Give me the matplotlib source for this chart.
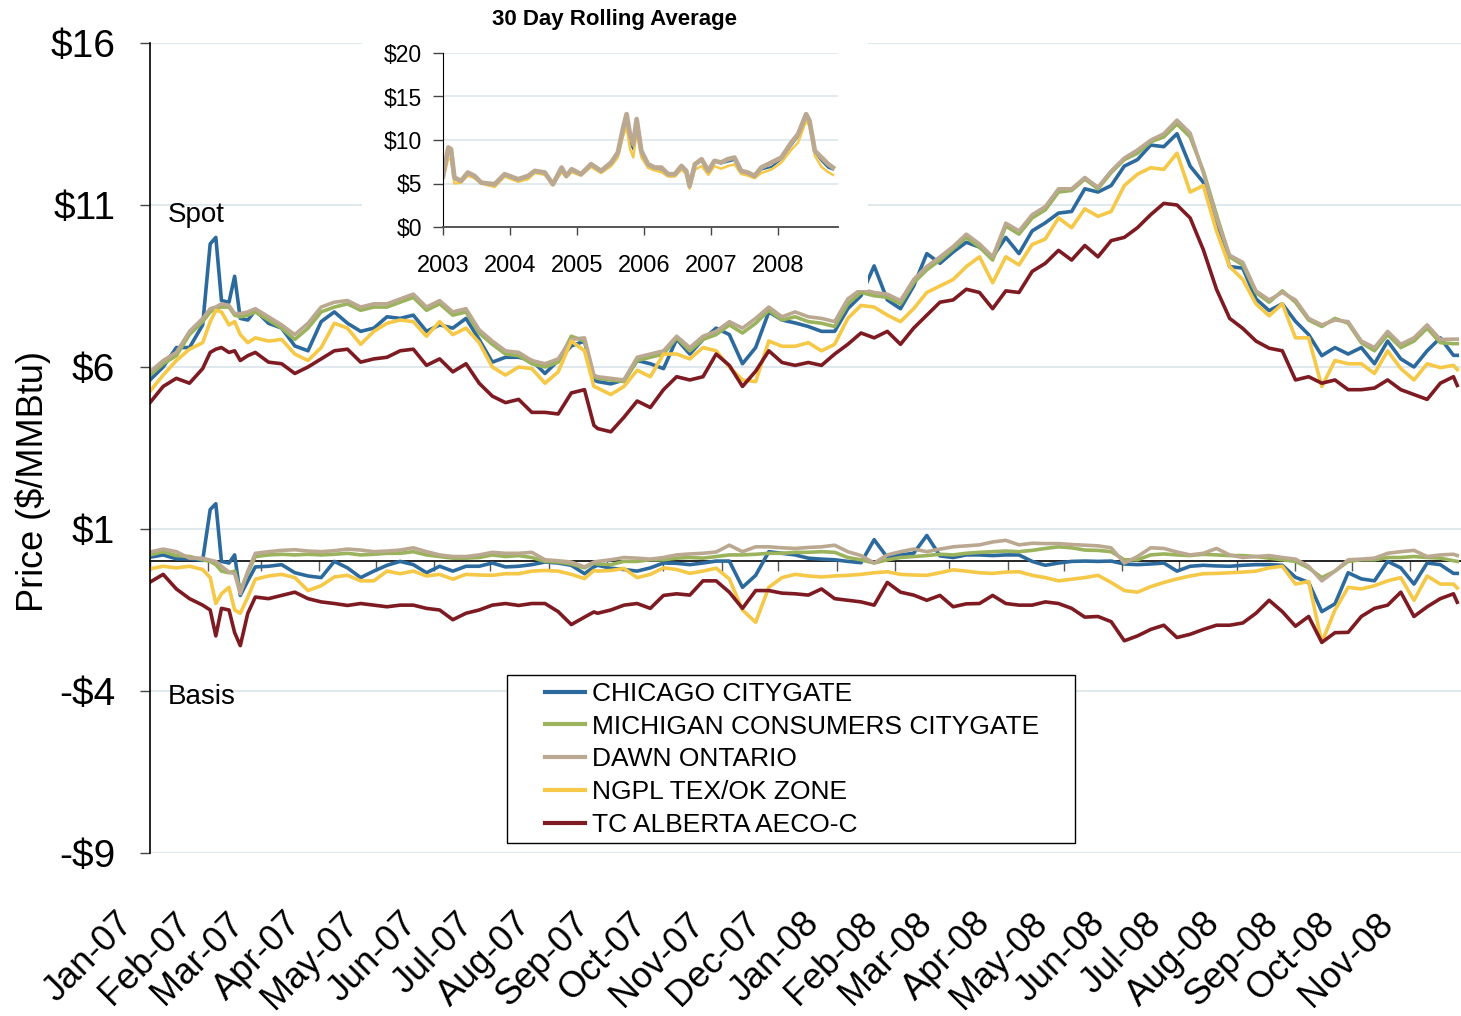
import numpy as np
import matplotlib
matplotlib.use('Agg')
import matplotlib.pyplot as plt
import matplotlib.dates as mdates
import matplotlib.transforms as mtransforms
from matplotlib.patches import Rectangle
from matplotlib.ticker import NullFormatter

plt.rcParams['font.family'] = ['Liberation Sans', 'DejaVu Sans']

# ---- daily prices, sampled about weekly (days after 2007-01-01) ----
days = [0, 7, 14, 21, 28, 32, 35, 38, 42, 45, 48, 52, 56, 63, 70, 77, 84, 91, 98, 105,
        112, 119, 126, 133, 140, 147, 154, 161, 168, 175, 182, 189, 196, 203, 210, 217, 224, 231, 236,
        238, 245, 252, 259, 266, 273, 280, 287, 294, 301, 308, 315, 322, 329, 336, 343, 350, 357,
        364, 371, 378, 385, 392, 399, 406, 413, 420, 427, 434, 441, 448, 455, 462, 469,
        476, 483, 490, 497, 504, 511, 518, 525, 532, 539, 546, 553, 560, 567, 574, 581, 588, 595,
        602, 609, 616, 623, 630, 637, 644, 651, 658, 665, 672, 679, 686, 693, 695]

chicago_spot = [5.6, 6.0, 6.6, 6.6, 7.3, 9.8, 10.0, 8.05, 8.0, 8.8, 7.5, 7.45, 7.75, 7.35, 7.2, 6.65, 6.5, 7.4, 7.7, 7.35,
                7.1, 7.2, 7.55, 7.5, 7.6, 7.1, 7.3, 7.2, 7.5, 6.85, 6.15, 6.3, 6.3, 6.2, 5.8, 6.2, 6.65, 6.8, 5.6,
                5.55, 5.48, 5.6, 6.2, 6.1, 5.95, 6.86, 6.4, 6.85, 7.2, 7.0, 6.1, 6.6, 7.7, 7.45, 7.36, 7.25, 7.1,
                7.1, 7.8, 8.2, 9.12, 8.07, 7.8, 8.5, 9.5, 9.2, 9.55, 9.85, 9.7, 9.4, 10.0, 9.5, 10.2,
                10.45, 10.75, 10.8, 11.5, 11.4, 11.6, 12.2, 12.4, 12.85, 12.8, 13.2, 12.2, 11.7, 10.4, 9.1, 9.05, 8.1, 7.74,
                7.95, 7.41, 7.0, 6.35, 6.6, 6.4, 6.6, 6.1, 6.8, 6.25, 6.0, 6.5, 6.9, 6.36, 6.36]
michigan_spot = [5.75, 6.1, 6.35, 7.0, 7.4, 7.7, 7.8, 7.85, 7.85, 7.6, 7.55, 7.6, 7.7, 7.45, 7.2, 6.85, 7.2, 7.7, 7.85, 7.95,
                 7.75, 7.85, 7.85, 8.0, 8.15, 7.75, 7.95, 7.6, 7.7, 7.05, 6.7, 6.4, 6.35, 6.1, 6.0, 6.15, 6.95, 6.8, 5.7,
                 5.65, 5.6, 5.55, 6.2, 6.3, 6.4, 6.9, 6.5, 6.85, 7.0, 7.3, 7.05, 7.35, 7.75, 7.45, 7.55, 7.4, 7.35,
                 7.25, 7.95, 8.3, 8.2, 8.15, 7.95, 8.6, 9.0, 9.3, 9.65, 10.0, 9.7, 9.3, 10.35, 10.1, 10.6,
                 10.85, 11.4, 11.45, 11.8, 11.5, 12.0, 12.4, 12.6, 12.95, 13.1, 13.5, 13.1, 12.05, 10.7, 9.4, 9.15, 8.3, 8.0,
                 8.35, 8.0, 7.45, 7.25, 7.5, 7.35, 6.75, 6.5, 7.0, 6.6, 6.8, 7.2, 6.75, 6.72, 6.72]
dawn_spot = [5.85, 6.2, 6.45, 7.1, 7.5, 7.8, 7.85, 7.95, 7.9, 7.65, 7.65, 7.7, 7.8, 7.55, 7.3, 7.0, 7.35, 7.85, 8.0, 8.05,
             7.85, 7.95, 7.95, 8.1, 8.25, 7.85, 8.05, 7.7, 7.8, 7.15, 6.8, 6.5, 6.45, 6.2, 6.1, 6.25, 6.85, 6.9, 5.75,
             5.7, 5.65, 5.6, 6.3, 6.4, 6.5, 6.95, 6.6, 6.95, 7.1, 7.4, 7.2, 7.5, 7.85, 7.55, 7.7, 7.55, 7.5,
             7.4, 8.1, 8.4, 8.3, 8.25, 8.05, 8.7, 9.1, 9.4, 9.72, 10.1, 9.8, 9.4, 10.44, 10.2, 10.7,
             10.95, 11.5, 11.5, 11.85, 11.55, 12.05, 12.45, 12.7, 13.0, 13.2, 13.62, 13.22, 12.0, 10.6, 9.45, 9.23, 8.35, 8.07,
             8.3, 8.07, 7.5, 7.3, 7.45, 7.4, 6.8, 6.6, 7.1, 6.7, 6.9, 7.3, 6.85, 6.86, 6.86]
ngpl_spot = [5.25, 5.75, 6.2, 6.55, 6.75, 7.4, 7.75, 7.7, 7.3, 7.4, 7.0, 6.75, 6.9, 6.8, 6.85, 6.4, 6.2, 6.6, 7.35, 7.2,
             6.7, 7.1, 7.35, 7.45, 7.4, 6.95, 7.4, 7.0, 7.2, 6.75, 6.0, 5.75, 6.0, 5.95, 5.5, 5.85, 6.8, 6.5, 5.4,
             5.35, 5.15, 5.4, 5.9, 5.7, 6.4, 6.4, 6.25, 6.6, 6.5, 6.0, 5.6, 5.55, 6.8, 6.64, 6.64, 6.75, 6.5,
             6.7, 7.5, 7.9, 7.85, 7.6, 7.4, 7.8, 8.3, 8.5, 8.7, 9.1, 9.4, 8.6, 9.4, 9.15, 9.78,
             9.95, 10.6, 10.3, 10.88, 10.65, 10.8, 11.6, 11.95, 12.15, 12.1, 12.6, 11.4, 11.6, 10.2, 9.1, 8.7, 7.95, 7.58,
             7.95, 6.9, 6.9, 5.4, 6.2, 6.1, 6.1, 5.8, 6.5, 5.95, 5.6, 6.1, 5.98, 6.05, 5.92]
tc_spot = [4.9, 5.4, 5.65, 5.5, 5.95, 6.45, 6.55, 6.6, 6.45, 6.5, 6.2, 6.35, 6.45, 6.15, 6.1, 5.8, 6.0, 6.25, 6.5, 6.55,
           6.15, 6.25, 6.3, 6.5, 6.55, 6.05, 6.25, 5.85, 6.1, 5.5, 5.1, 4.9, 5.0, 4.6, 4.6, 4.55, 5.2, 5.3, 4.2,
           4.1, 4.0, 4.45, 4.95, 4.75, 5.3, 5.7, 5.6, 5.7, 6.4, 6.05, 5.4, 5.87, 6.5, 6.14, 6.05, 6.14, 6.05,
           6.4, 6.7, 7.05, 6.9, 7.1, 6.7, 7.2, 7.6, 8.0, 8.07, 8.4, 8.3, 7.8, 8.35, 8.3, 8.95,
           9.2, 9.6, 9.3, 9.75, 9.4, 9.9, 10.0, 10.3, 10.7, 11.05, 11.0, 10.6, 9.62, 8.4, 7.5, 7.19, 6.8, 6.58,
           6.5, 5.6, 5.7, 5.5, 5.6, 5.3, 5.3, 5.35, 5.6, 5.3, 5.15, 5.0, 5.5, 5.7, 5.43]

chicago_basis = [0.13, 0.2, 0.08, 0.08, 0.03, 1.6, 1.78, 0.0, -0.05, 0.2, -1.05, -0.6, -0.17, -0.15, -0.1, -0.35, -0.45, -0.5, 0.0, -0.2,
                 -0.5, -0.3, -0.12, 0.0, -0.1, -0.35, -0.15, -0.3, -0.15, -0.15, -0.05, -0.17, -0.15, -0.1, -0.02, -0.05, -0.12, -0.38, -0.17,
                 -0.12, -0.21, -0.25, -0.3, -0.2, -0.05, -0.06, -0.1, -0.05, 0.01, 0.01, -0.8, -0.43, 0.3, 0.25, 0.2, 0.1, 0.07,
                 0.05, 0.0, -0.04, 0.67, 0.12, 0.2, 0.25, 0.8, 0.17, 0.12, 0.2, 0.2, 0.18, 0.2, 0.2, 0.0,
                 -0.12, -0.05, 0.0, 0.01, 0.0, 0.01, -0.08, -0.1, -0.08, -0.05, -0.3, -0.15, -0.12, -0.14, -0.15, -0.12, -0.1, -0.1,
                 -0.12, -0.49, -0.65, -1.55, -1.31, -0.35, -0.54, -0.6, 0.0, -0.2, -0.7, -0.05, -0.1, -0.37, -0.37]
michigan_basis = [0.2, 0.3, 0.18, 0.15, 0.05, 0.0, -0.1, -0.3, -0.35, -0.3, -0.9, -0.35, 0.15, 0.2, 0.22, 0.2, 0.22, 0.2, 0.22, 0.25,
                  0.2, 0.22, 0.25, 0.25, 0.3, 0.2, 0.15, 0.1, 0.1, 0.12, 0.2, 0.15, 0.18, 0.12, 0.0, -0.02, -0.08, -0.2, -0.05,
                  -0.08, -0.1, 0.0, 0.0, 0.05, 0.05, 0.1, 0.12, 0.1, 0.15, 0.2, 0.2, 0.22, 0.25, 0.25, 0.28, 0.28, 0.3,
                  0.28, 0.12, 0.05, -0.05, 0.05, 0.12, 0.15, 0.18, 0.22, 0.2, 0.25, 0.28, 0.3, 0.32, 0.3, 0.34,
                  0.4, 0.45, 0.42, 0.35, 0.34, 0.3, 0.05, 0.05, 0.2, 0.23, 0.2, 0.18, 0.22, 0.2, 0.18, 0.18, 0.15, 0.1,
                  0.05, 0.0, -0.2, -0.5, -0.3, 0.0, 0.05, 0.05, 0.12, 0.12, 0.15, 0.12, 0.1, 0.02, 0.0]
dawn_basis = [0.29, 0.38, 0.3, 0.1, 0.1, 0.04, 0.0, -0.15, -0.33, -0.38, -1.0, -0.3, 0.25, 0.3, 0.34, 0.36, 0.32, 0.3, 0.33, 0.38,
              0.35, 0.3, 0.32, 0.35, 0.42, 0.3, 0.2, 0.15, 0.15, 0.2, 0.28, 0.25, 0.25, 0.28, 0.05, 0.02, -0.02, -0.17, -0.02,
              0.0, 0.05, 0.12, 0.1, 0.07, 0.12, 0.2, 0.23, 0.25, 0.29, 0.5, 0.3, 0.45, 0.45, 0.42, 0.4, 0.43, 0.45,
              0.5, 0.3, 0.18, -0.05, 0.2, 0.3, 0.38, 0.3, 0.38, 0.45, 0.48, 0.51, 0.6, 0.65, 0.51, 0.56,
              0.55, 0.55, 0.52, 0.5, 0.48, 0.42, -0.05, 0.15, 0.42, 0.4, 0.29, 0.2, 0.25, 0.4, 0.2, 0.12, 0.15, 0.18,
              0.12, 0.07, -0.15, -0.6, -0.3, 0.05, 0.07, 0.1, 0.25, 0.3, 0.34, 0.15, 0.2, 0.22, 0.18]
ngpl_basis = [-0.23, -0.15, -0.2, -0.15, -0.25, -0.5, -1.3, -1.0, -0.8, -1.5, -1.6, -1.1, -0.55, -0.45, -0.4, -0.5, -0.9, -0.75, -0.48, -0.43,
              -0.6, -0.6, -0.3, -0.38, -0.3, -0.45, -0.4, -0.55, -0.4, -0.42, -0.43, -0.38, -0.38, -0.3, -0.28, -0.3, -0.4, -0.53, -0.28,
              -0.3, -0.28, -0.22, -0.5, -0.4, -0.2, -0.25, -0.37, -0.3, -0.21, -0.54, -1.5, -1.88, -0.8, -0.5, -0.4, -0.45, -0.48,
              -0.45, -0.43, -0.4, -0.35, -0.32, -0.4, -0.42, -0.43, -0.35, -0.26, -0.3, -0.35, -0.37, -0.33, -0.32, -0.43,
              -0.5, -0.6, -0.55, -0.5, -0.43, -0.65, -0.9, -0.95, -0.78, -0.65, -0.54, -0.45, -0.38, -0.37, -0.35, -0.33, -0.3, -0.2,
              -0.15, -0.7, -0.62, -2.5, -1.5, -0.8, -0.85, -0.75, -0.6, -0.5, -1.2, -0.45, -0.7, -0.7, -0.82]
tc_basis = [-0.64, -0.4, -0.85, -1.15, -1.35, -1.5, -2.3, -1.45, -1.5, -2.2, -2.6, -1.6, -1.1, -1.15, -1.05, -0.95, -1.15, -1.25, -1.3, -1.36,
            -1.3, -1.35, -1.4, -1.35, -1.35, -1.45, -1.5, -1.8, -1.6, -1.5, -1.35, -1.3, -1.36, -1.3, -1.3, -1.55, -1.95, -1.72, -1.56,
            -1.6, -1.5, -1.35, -1.3, -1.45, -1.05, -1.0, -1.04, -0.6, -0.6, -0.95, -1.45, -0.9, -0.9, -0.98, -1.0, -1.04, -0.85,
            -1.15, -1.2, -1.25, -1.35, -0.65, -0.95, -1.04, -1.2, -1.05, -1.4, -1.31, -1.3, -1.05, -1.3, -1.35, -1.35,
            -1.25, -1.3, -1.45, -1.72, -1.7, -1.86, -2.45, -2.3, -2.1, -1.97, -2.35, -2.25, -2.1, -1.97, -1.97, -1.9, -1.6, -1.2,
            -1.55, -2.0, -1.7, -2.5, -2.2, -2.19, -1.7, -1.45, -1.35, -0.95, -1.7, -1.4, -1.15, -1.0, -1.26]

# ---- inset: 30 day rolling average ----
ins_years = [2003.00, 2003.08, 2003.12, 2003.17, 2003.27, 2003.37, 2003.47, 2003.57, 2003.77, 2003.92,
             2004.12, 2004.27, 2004.37, 2004.52, 2004.64, 2004.77, 2004.84, 2004.92, 2005.06, 2005.21,
             2005.36, 2005.51, 2005.61, 2005.69, 2005.74, 2005.79, 2005.84, 2005.89, 2005.96, 2006.06,
             2006.16, 2006.26, 2006.36, 2006.46, 2006.56, 2006.63, 2006.68, 2006.76, 2006.86, 2006.96,
             2007.05, 2007.15, 2007.25, 2007.35, 2007.45, 2007.55, 2007.65, 2007.75, 2007.90, 2008.05,
             2008.20, 2008.30, 2008.42, 2008.47, 2008.55, 2008.65, 2008.75, 2008.82]
ins_chicago = [5.7, 8.8, 8.6, 5.5, 5.2, 6.1, 5.7, 5.0, 4.8, 5.9, 5.4, 5.7, 6.3, 6.1, 4.9, 6.6, 5.8, 6.5, 6.0, 7.1,
               6.4, 7.3, 8.3, 11.0, 12.2, 9.8, 8.9, 11.9, 8.5, 7.0, 6.6, 6.6, 6.0, 6.0, 6.9, 6.4, 4.6, 7.1, 7.6, 6.3,
               7.7, 7.3, 7.5, 7.7, 6.3, 6.1, 5.8, 6.6, 6.9, 7.8, 9.4, 10.4, 12.6, 12.0, 8.6, 7.6, 6.8, 6.6]
ins_michigan = [5.8, 9.0, 8.8, 5.6, 5.25, 6.2, 5.8, 5.05, 4.85, 6.0, 5.45, 5.8, 6.4, 6.2, 4.9, 6.75, 5.85, 6.6, 6.05, 7.2,
                6.4, 7.4, 8.5, 11.3, 12.8, 10.4, 9.3, 12.2, 8.7, 7.1, 6.75, 6.75, 6.0, 6.0, 6.95, 6.4, 4.7, 7.15, 7.7, 6.4,
                7.5, 7.35, 7.7, 7.9, 6.4, 6.2, 5.8, 6.75, 7.3, 7.9, 9.6, 10.6, 12.9, 12.1, 8.7, 7.9, 7.1, 6.75]
ins_ngpl = [5.4, 7.9, 7.7, 5.0, 5.1, 5.9, 5.6, 5.0, 4.6, 5.8, 5.2, 5.5, 6.2, 6.0, 4.8, 6.3, 5.7, 6.3, 5.9, 6.9,
            6.2, 7.0, 8.0, 10.5, 11.5, 9.0, 8.0, 11.0, 8.0, 6.8, 6.5, 6.3, 5.8, 5.8, 6.6, 6.1, 4.4, 6.6, 7.0, 6.0,
            7.0, 6.7, 7.0, 7.2, 6.1, 5.9, 5.6, 6.2, 6.6, 7.4, 8.9, 9.7, 12.2, 11.6, 8.2, 6.9, 6.3, 6.0]
ins_dawn = [5.87, 9.14, 8.94, 5.68, 5.3, 6.26, 5.87, 5.1, 4.91, 6.07, 5.49, 5.87, 6.45, 6.26, 4.91, 6.83, 5.87, 6.64, 6.07, 7.22,
            6.45, 7.41, 8.56, 11.44, 12.97, 10.67, 9.52, 12.4, 8.75, 7.22, 6.83, 6.83, 6.07, 6.07, 7.02, 6.45, 4.72, 7.22, 7.79, 6.45,
            7.6, 7.41, 7.79, 7.98, 6.45, 6.26, 5.87, 6.83, 7.41, 7.98, 9.71, 10.67, 12.97, 12.21, 8.75, 7.98, 7.22, 6.83]

names = ['CHICAGO CITYGATE', 'MICHIGAN CONSUMERS CITYGATE', 'DAWN ONTARIO',
         'NGPL TEX/OK ZONE', 'TC ALBERTA AECO-C']
colors = ['#2C6A9E', '#9AB35C', '#BBA891', '#F5C848', '#7E1B22']

W, H = 1461, 1016
start = np.datetime64('2007-01-01')
dates = start + np.array(days).astype('timedelta64[D]')
months = np.arange('2007-01', '2008-12', dtype='datetime64[M]').astype('datetime64[D]')

fig = plt.figure(figsize=(W / 100, H / 100), dpi=100)
ax = fig.add_axes([150 / W, 1 - 853 / H, (W - 150) / W, (853 - 43) / H])

spots = [chicago_spot, michigan_spot, dawn_spot, ngpl_spot, tc_spot]
bases = [chicago_basis, michigan_basis, dawn_basis, ngpl_basis, tc_basis]
handles = []
for name, c, s, b in zip(names, colors, spots, bases):
    ax.plot(dates, s, color=c, lw=2.6, solid_joinstyle='round')
    h, = ax.plot(dates, b, color=c, lw=2.6, solid_joinstyle='round', label=name)
    handles.append(h)

ax.set_xlim(start, start + np.timedelta64(697, 'D'))
ax.set_ylim(-9, 16)
yt = [-9, -4, 1, 6, 11, 16]
ax.set_yticks(yt)
ax.set_yticklabels([f'${v}' if v >= 0 else f'-${-v}' for v in yt])
ax.tick_params(axis='y', length=7, width=1, color='#444444', labelsize=28, pad=18)
ax.yaxis.grid(True, color='#DCE6EA', lw=1.3)
ax.set_axisbelow(True)
for sp in ['top', 'right', 'bottom']:
    ax.spines[sp].set_visible(False)
ax.spines['left'].set_linewidth(1.2)

# month labels at the bottom, ticks on the zero line
ax.set_xticks(months)
ax.tick_params(axis='x', length=0, labelbottom=False)
off = mtransforms.ScaledTranslation(-0.35, -0.53, fig.dpi_scale_trans)
trans = mtransforms.blended_transform_factory(ax.transData, ax.transAxes) + off
for m in months:
    ax.text(mdates.date2num(m), 0, m.astype(object).strftime('%b-%y'), transform=trans,
            rotation=45, rotation_mode='anchor', ha='right', va='top', fontsize=26)

zero = ax.secondary_xaxis(9 / 25)
zero.set_xticks(mdates.date2num(months))
zero.xaxis.set_major_formatter(NullFormatter())
zero.tick_params(axis='x', length=7, width=1, color='#555555', direction='out')
zero.spines['bottom'].set_linewidth(1.2)

fig.text(33 / W, 1 - 481 / H, 'Price ($/MMBtu)', rotation=90, ha='center', va='center', fontsize=26)
fig.text(168 / W, 1 - 215 / H, 'Spot', ha='left', va='center', fontsize=20)
fig.text(168 / W, 1 - 697 / H, 'Basis', ha='left', va='center', fontsize=20)

# legend
fig.patches.append(Rectangle((507 / W, 1 - 843 / H), (1075 - 507) / W, (843 - 675) / H,
                             transform=fig.transFigure, facecolor='white', edgecolor='black',
                             lw=1, zorder=4))
leg = fig.legend(handles=handles, loc='upper left', bbox_to_anchor=(545 / W, 1 - 682 / H),
                 frameon=False, fontsize=19, handlelength=1.5, handletextpad=0.3,
                 labelspacing=0.33, borderpad=0, borderaxespad=0)
leg.set_zorder(5)
for ln in leg.get_lines():
    ln.set_linewidth(3)

# inset
fig.patches.append(Rectangle((362 / W, 1 - 290 / H), (868 - 362) / W, 290 / H,
                             transform=fig.transFigure, facecolor='white', edgecolor='none', zorder=1))
ins = fig.add_axes([443 / W, 1 - 227 / H, 395 / W, 174 / H], zorder=3)
ins.plot(ins_years, ins_chicago, color=colors[0], lw=1.5)
ins.plot(ins_years, ins_michigan, color=colors[1], lw=1.5)
ins.plot(ins_years, ins_ngpl, color=colors[3], lw=1.8)
ins.plot(ins_years, ins_dawn, color=colors[2], lw=3.4)
ins.set_xlim(2003, 2003 + 395 / 67)
ins.set_ylim(0, 20)
ins.set_xticks([2003, 2004, 2005, 2006, 2007, 2008])
ins.set_xticklabels(['2003', '2004', '2005', '2006', '2007', '2008'])
ins.set_yticks([0, 5, 10, 15, 20])
ins.set_yticklabels(['$0', '$5', '$10', '$15', '$20'])
ins.tick_params(axis='x', length=6, width=1, color='#444444', labelsize=17, pad=14)
ins.tick_params(axis='y', length=7, width=1, color='#444444', labelsize=16.5, pad=8)
ins.yaxis.grid(True, color='#DCE6EA', lw=1.2)
ins.set_axisbelow(True)
for sp in ['top', 'right']:
    ins.spines[sp].set_visible(False)
ins.spines['bottom'].set_color('#555555')
ins.spines['bottom'].set_linewidth(1.4)
fig.text(614 / W, 1 - 20 / H, '30 Day Rolling Average', ha='center', va='center',
         fontsize=16, fontweight='bold')

fig.savefig('out.png', dpi=100)
